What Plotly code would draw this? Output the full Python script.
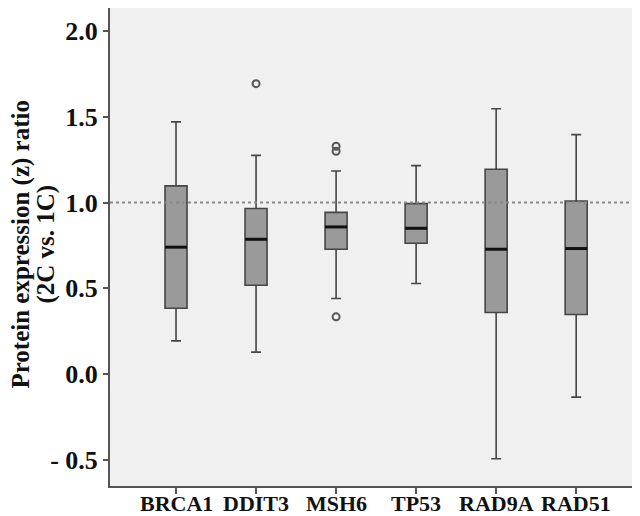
import plotly.graph_objects as go

genes = ["BRCA1", "DDIT3", "MSH6", "TP53", "RAD9A", "RAD51"]
q1 = [0.384, 0.518, 0.728, 0.763, 0.359, 0.348]
median = [0.740, 0.786, 0.858, 0.850, 0.728, 0.732]
q3 = [1.097, 0.965, 0.943, 0.994, 1.194, 1.009]
lower_whisker = [0.194, 0.128, 0.441, 0.528, -0.493, -0.134]
upper_whisker = [1.470, 1.275, 1.184, 1.215, 1.547, 1.396]
outlier_gene = ["DDIT3", "MSH6", "MSH6", "MSH6"]
outlier_value = [1.693, 1.328, 1.299, 0.334]
y_tick_vals = [-0.5, 0.0, 0.5, 1.0, 1.5, 2.0]
y_tick_text = ["- 0.5", "0.0", "0.5", "1.0", "1.5", "2.0"]
title_lines = ["Protein expression (z) ratio", "(2C vs. 1C)"]
reference_value = 1.0

pos = list(range(len(genes)))
box_w = 0.275
font_family = "Liberation Serif"
# the page places the figure 8px from the window's top-left corner
FIG_W, FIG_H = 632, 508
L, R, T, B = 102, 3, 0, 30
plot_w = FIG_W - L - R

fig = go.Figure()
fig.add_trace(go.Box(
    x=pos, q1=q1, median=median, q3=q3,
    lowerfence=lower_whisker, upperfence=upper_whisker,
    width=box_w, whiskerwidth=0.45,
    fillcolor="#9a9a9a", line=dict(color="#454545", width=1.6),
    boxpoints=False, showlegend=False, hoverinfo="skip",
))

mx, my = [], []
for i, m in zip(pos, median):
    mx += [i - box_w / 2, i + box_w / 2, None]
    my += [m, m, None]
fig.add_trace(go.Scatter(x=mx, y=my, mode="lines",
                         line=dict(color="#111111", width=3),
                         showlegend=False, hoverinfo="skip"))

fig.add_trace(go.Scatter(
    x=[genes.index(g) for g in outlier_gene], y=outlier_value, mode="markers",
    marker=dict(symbol="circle-open", size=7, color="#555555", line=dict(width=2)),
    showlegend=False, hoverinfo="skip"))

fig.add_shape(type="line", xref="paper", x0=0, x1=1, yref="y",
              y0=reference_value, y1=reference_value, layer="above",
              line=dict(color="#8a8a8a", width=2, dash="dot"))

for line_text, cx in zip(title_lines, [13, 38]):
    fig.add_annotation(
        text=f"<b>{line_text}</b>",
        xref="paper", yref="paper", x=(cx - L) / plot_w, y=0.505,
        xanchor="center", yanchor="middle", textangle=-90, showarrow=False,
        font=dict(family=font_family, size=25, color="#111111"))

# category labels under the x ticks
for i, g in zip(pos, genes):
    fig.add_annotation(
        text=f"<b>{g}</b>", xref="x", yref="paper", x=i, y=0,
        xanchor="center", yanchor="top", yshift=-4, showarrow=False,
        borderpad=0,
        font=dict(family=font_family, size=22, color="#111111"))

fig.update_layout(
    width=FIG_W, height=FIG_H,
    margin=dict(l=L, r=R, t=T, b=B, autoexpand=False),
    paper_bgcolor="white", plot_bgcolor="#f0f0f0",
    font=dict(family=font_family, color="#111111"),
)
fig.update_xaxes(
    range=[-0.825, 5.76], tickvals=pos, showticklabels=False,
    showgrid=False, zeroline=False, automargin=False,
    showline=True, linecolor="#555555", linewidth=2, mirror=True,
    ticks="outside", ticklen=6, tickcolor="#555555", tickwidth=1.5,
)
fig.update_yaxes(
    range=[-0.652, 2.134], tickvals=y_tick_vals,
    ticktext=[f"<b>{t}</b>" for t in y_tick_text],
    tickfont=dict(size=26, family=font_family, color="#111111"),
    showgrid=False, zeroline=False, automargin=False,
    showline=True, linecolor="#555555", linewidth=2, mirror=True,
    ticks="outside", ticklen=5, tickcolor="#555555", tickwidth=1.5,
)

fig.write_html("out.html")
